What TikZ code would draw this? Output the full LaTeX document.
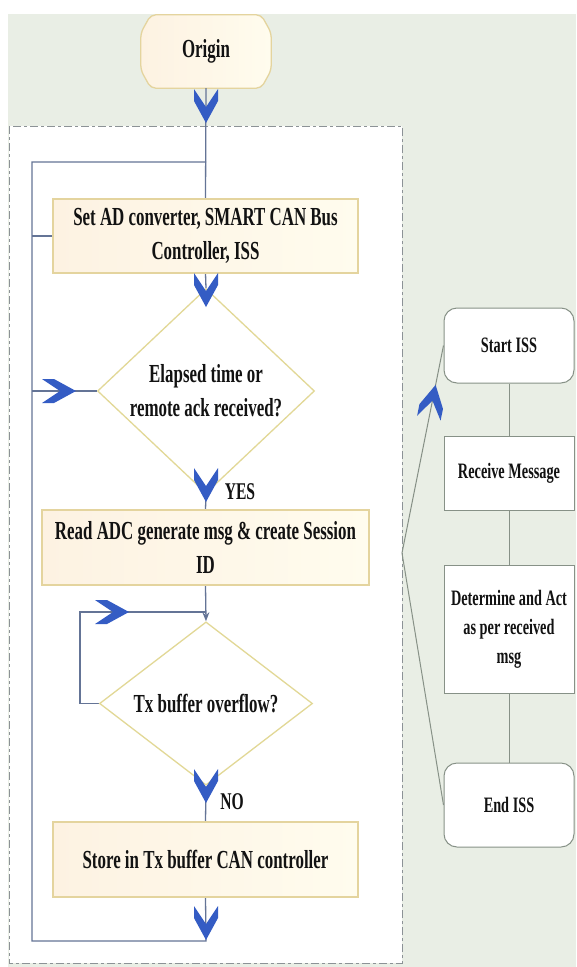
\documentclass[tikz,border=0pt]{standalone}
\usepackage{fontspec}
\setmainfont{Liberation Serif}[FakeStretch=0.65]
\usetikzlibrary{shapes.geometric,arrows.meta,calc}
\definecolor{bgc}{RGB}{233,238,229}
\definecolor{chevblue}{RGB}{52,92,196}
\definecolor{flowline}{RGB}{100,116,150}
\definecolor{boxedge}{RGB}{228,212,158}
\definecolor{boxfillL}{RGB}{253,242,226}
\definecolor{boxfillR}{RGB}{255,252,238}
\definecolor{dedge}{RGB}{226,216,150}
\definecolor{gline}{RGB}{135,145,135}
\definecolor{dashc}{RGB}{140,146,150}
\definecolor{txt}{RGB}{18,18,18}
\pgfdeclarelayer{back}
\pgfdeclarelayer{mid}
\pgfsetlayers{back,mid,main}
\tikzset{
  bigtxt/.style={font=\bfseries\fontsize{26}{34}\selectfont, text=txt},
  smtxt/.style={font=\bfseries\fontsize{22}{29}\selectfont, text=txt},
  procbox/.style={bigtxt, draw=boxedge, line width=1.3pt, left color=boxfillL, right color=boxfillR, align=center, inner sep=0pt},
  decbox/.style={bigtxt, shape=diamond, draw=dedge, line width=1.3pt, fill=white, align=center, inner sep=0pt},
  issbox/.style={smtxt, draw=gline, line width=1pt, fill=white, align=center, inner sep=0pt, minimum width=130pt},
  flow/.style={draw=flowline, line width=1.3pt},
  gflow/.style={draw=gline, line width=1pt},
  chev/.pic={\fill[chevblue] (0,0) -- (-12,-22) -- (-12,-34) -- (0,-16) -- (12,-34) -- (12,-22) -- cycle;}
}
\begin{document}
\begin{tikzpicture}[x=1pt,y=-1pt]
\useasboundingbox (0,0) rectangle (576,967);
\begin{pgfonlayer}{back}
\fill[white] (0,0) rectangle (576,967);
\fill[bgc] (8,14) rectangle (576,967);
\draw[dashc, fill=white, line width=0.9pt, dash pattern=on 8pt off 3pt on 3pt off 3pt] (9,126) rectangle (402,963);
\end{pgfonlayer}

% left flow
\node[bigtxt, minimum width=130pt, minimum height=73pt, inner sep=0pt] (origin) at (206,51.5) {Origin};
\begin{pgfonlayer}{mid}
\draw[boxedge, line width=1.3pt, left color=boxfillL, right color=boxfillR, rounded corners=5pt]
  ($(origin.north west)+(10,0)$) -- ($(origin.north east)+(-10,0)$) -- ($(origin.north east)+(0,18)$) --
  ($(origin.south east)+(0,-18)$) -- ($(origin.south east)+(-10,0)$) -- ($(origin.south west)+(10,0)$) --
  ($(origin.south west)+(0,-18)$) -- ($(origin.north west)+(0,18)$) -- cycle;
\end{pgfonlayer}

\node[procbox, minimum width=305pt, minimum height=74pt] (set) at (205.5,236) {Set AD converter, SMART CAN Bus\\Controller, ISS};
\node[decbox, minimum width=217pt, minimum height=148pt] (d1) at (206,391) {Elapsed time or\\remote ack received?};
\node[procbox, minimum width=327pt, minimum height=75pt] (read) at (205.5,547.5) {Read ADC generate msg \& create Session\\ID};
\node[decbox, minimum width=213pt, minimum height=127pt] (d2) at (206,703.5) {Tx buffer overflow?};
\node[procbox, minimum width=305pt, minimum height=75pt] (store) at (205.5,859.5) {Store in Tx buffer CAN controller};

\node[bigtxt, font=\bfseries\fontsize{24}{28}\selectfont] (yes) at (240,492) {YES};
\node[bigtxt, font=\bfseries\fontsize{24}{28}\selectfont] (no) at (232,802) {NO};

\coordinate (cTR) at (206,162);
\coordinate (cTL) at (32,162);
\coordinate (cBL) at (32,941);
\coordinate (cBR) at (206,941);
\coordinate (lpT) at (80,612);
\coordinate (lpJ) at (206,612);

\begin{pgfonlayer}{mid}
\draw[flow] (origin.south) -- (set.north);
\draw[flow] (set.south) -- (d1.north);
\draw[flow] (d1.south) -- (read.north);
\draw[flow, -{Stealth[length=9pt,width=7pt]}] (read.south) -- (d2.north);
\draw[flow] (d2.south) -- (store.north);
\draw[flow] (store.south) -- (cBR) -- (cBL) -- (cTL) -- (cTR);
\draw[flow] (cTL |- set.west) -- (set.west);
\draw[flow] (cTL |- d1.west) -- (d1.west);
\draw[flow] (d2.west) -- (lpT |- d2.west) -- (lpT) -- (lpJ);
\end{pgfonlayer}

\pic at (206,123) {chev};
\pic at (206,307) {chev};
\pic at (206,502) {chev};
\pic at (206,803) {chev};
\pic at (206,940) {chev};
\pic[rotate=90] at (76,391) {chev};
\pic[rotate=90] at (129,612) {chev};

% right flow
\node[issbox, minimum height=75pt, rounded corners=13pt] (startiss) at (509,345.5) {Start ISS};
\node[issbox, minimum height=74pt] (recv) at (509,473) {Receive Message};
\node[issbox, minimum height=128pt] (det) at (509,629) {Determine and Act\\as per received\\msg};
\node[issbox, minimum height=84pt, rounded corners=13pt] (endiss) at (509,805) {End ISS};
\coordinate (apex) at (402,553);

\begin{pgfonlayer}{mid}
\draw[gflow] (startiss.south) -- (recv.north);
\draw[gflow] (recv.south) -- (det.north);
\draw[gflow] (det.south) -- (endiss.north);
\draw[gflow] (startiss.west) -- (apex) -- (endiss.west);
\end{pgfonlayer}
\pic[rotate=168.5] at ($(apex)!0.81!(startiss.west)$) {chev};
\end{tikzpicture}
\end{document}
